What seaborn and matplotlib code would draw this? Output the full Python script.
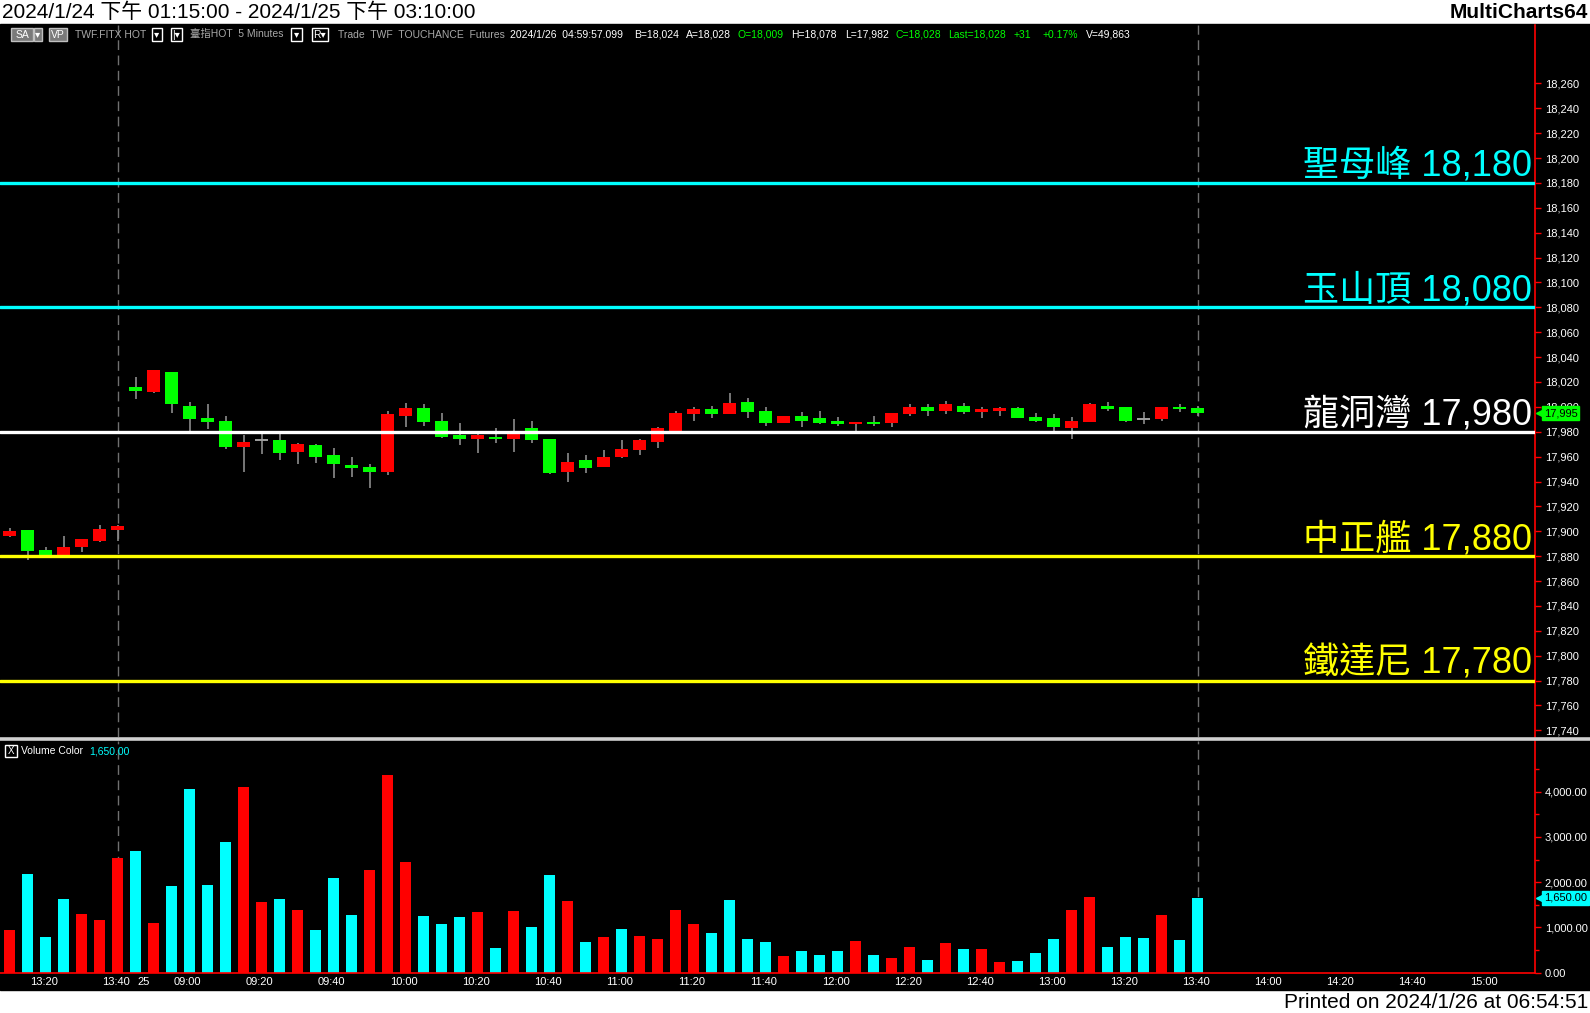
import numpy as np
import pandas as pd
import matplotlib
matplotlib.use('Agg')
import matplotlib.pyplot as plt
import matplotlib.transforms as mtransforms
from matplotlib.patches import Rectangle
from matplotlib.lines import Line2D
from matplotlib import font_manager
import seaborn as sns

# 5-minute bars, 2024/1/24 13:15 -> 2024/1/25 13:45
opens = [17896, 17901, 17885, 17881, 17887, 17892, 17901,
         18016, 18012, 18028, 18001, 17991, 17989, 17968, 17973, 17973, 17964,
         17969, 17961, 17953, 17952, 17948, 17993, 17999, 17989, 17977, 17974,
         17976, 17974, 17983, 17974, 17948, 17957, 17952, 17960, 17965, 17972,
         17981, 17994, 17998, 17994, 18004, 17997, 17987, 17993, 17991, 17989,
         17986, 17988, 17987, 17994, 18000, 17997, 18001, 17996, 17997, 17999,
         17992, 17991, 17983, 17988, 18001, 18000, 17990, 17990, 18000, 17999]
highs = [17903, 17901, 17887, 17896, 17894, 17905, 17905,
         18024, 18030, 18028, 18004, 18002, 17993, 17977, 17979, 17979, 17971,
         17970, 17967, 17960, 17954, 17997, 18003, 18002, 17995, 17987, 17978,
         17983, 17990, 17989, 17974, 17963, 17961, 17965, 17973, 17974, 17984,
         17997, 18000, 18001, 18011, 18007, 18000, 17993, 17996, 17997, 17992,
         17988, 17993, 17995, 18002, 18002, 18005, 18003, 18000, 18000, 18000,
         17995, 17994, 17992, 18003, 18004, 18000, 17996, 18000, 18002, 18001]
lows = [17895, 17877, 17881, 17881, 17883, 17891, 17892,
        18006, 18011, 17995, 17981, 17982, 17966, 17948, 17962, 17957, 17954,
        17955, 17943, 17944, 17935, 17945, 17984, 17985, 17975, 17969, 17963,
        17971, 17964, 17971, 17946, 17940, 17947, 17952, 17959, 17961, 17967,
        17981, 17989, 17991, 17994, 17991, 17985, 17987, 17984, 17986, 17985,
        17981, 17985, 17984, 17993, 17993, 17994, 17994, 17991, 17993, 17991,
        17988, 17981, 17974, 17988, 17997, 17988, 17986, 17989, 17996, 17993]
closes = [17900, 17884, 17881, 17887, 17894, 17902, 17904,
          18013, 18030, 18002, 17990, 17988, 17968, 17972, 17973, 17963, 17970,
          17960, 17954, 17951, 17948, 17994, 17999, 17988, 17976, 17974, 17977,
          17974, 17979, 17973, 17947, 17956, 17951, 17960, 17966, 17973, 17983,
          17995, 17998, 17994, 18003, 17996, 17987, 17993, 17989, 17987, 17986,
          17988, 17986, 17995, 18000, 17997, 18002, 17996, 17998, 17999, 17991,
          17989, 17984, 17989, 18002, 17998, 17989, 17990, 18000, 17998, 17995]
volumes = [940, 2180, 780, 1630, 1300, 1160, 2540, 2690, 1100, 1920,
           4070, 1940, 2890, 4110, 1560, 1630, 1380, 940, 2090, 1270,
           2270, 4360, 2450, 1250, 1070, 1230, 1340, 540, 1360, 1010,
           2160, 1580, 670, 780, 960, 810, 740, 1380, 1070, 870,
           1610, 740, 670, 360, 470, 390, 470, 700, 390, 320,
           560, 270, 650, 520, 520, 230, 250, 430, 740, 1380,
           1670, 560, 780, 760, 1270, 720, 1650]
vol_dir = ['up', 'dn', 'dn', 'dn', 'up', 'up', 'up', 'dn', 'up', 'dn',
           'dn', 'dn', 'dn', 'up', 'up', 'dn', 'up', 'dn', 'dn', 'dn',
           'up', 'up', 'up', 'dn', 'dn', 'dn', 'up', 'dn', 'up', 'dn',
           'dn', 'up', 'dn', 'up', 'dn', 'up', 'up', 'up', 'up', 'dn',
           'dn', 'dn', 'dn', 'up', 'dn', 'dn', 'dn', 'up', 'dn', 'up',
           'up', 'dn', 'up', 'dn', 'up', 'up', 'dn', 'dn', 'dn', 'up',
           'up', 'dn', 'dn', 'dn', 'up', 'dn', 'dn']

tick_idx = [1, 5, 7, 9, 13, 17, 21, 25, 29, 33, 37, 41, 45, 49, 53, 57, 61, 65,
            69, 73, 77, 81]
tick_labels = ['13:20', '13:40', '25', '09:00', '09:20', '09:40', '10:00', '10:20',
               '10:40', '11:00', '11:20', '11:40', '12:00', '12:20', '12:40',
               '13:00', '13:20', '13:40', '14:00', '14:20', '14:40', '15:00']
session_breaks = [6, 66]

levels = [18180, 18080, 17980, 17880, 17780]
level_names = ['聖母峰', '玉山頂', '龍洞灣', '中正艦', '鐵達尼']
level_colors = ['#00ffff', '#00ffff', '#ffffff', '#ffff00', '#ffff00']

last_price = 17995
last_volume = 1650

RED = '#ff0000'
GREEN = '#00ff00'
CYAN = '#00ffff'
GRAY = '#a8a8a8'

sns.set_style('dark', rc={'axes.facecolor': 'black', 'axes.grid': False})
names = {f.name for f in font_manager.fontManager.ttflist}
NARROW = 'Liberation Sans Narrow' if 'Liberation Sans Narrow' in names else 'Liberation Sans'
is_narrow = NARROW == 'Liberation Sans Narrow'
CJK = 'Noto Sans CJK TC'
plt.rcParams['font.family'] = ['Liberation Sans', CJK, 'DejaVu Sans']

W, H = 1590, 1013


def fx(px):
    return px / W


def fy(py):
    return 1 - py / H


fig = plt.figure(figsize=(15.9, 10.13), dpi=100, facecolor='white')
fig.add_artist(Rectangle((0, fy(990)), 1, fy(24.5) - fy(990), transform=fig.transFigure,
                         color='black', zorder=-10))

ax_p = fig.add_axes([0, fy(737), fx(1535), (737 - 25) / H])
ax_v = fig.add_axes([0, fy(972.5), fx(1535), (972.5 - 741) / H])
xlim = (-0.53, 84.75)

for ax in (ax_p, ax_v):
    ax.set_facecolor('black')
    for s in ('left', 'top', 'bottom'):
        ax.spines[s].set_visible(False)
    ax.spines['right'].set_color(RED)
    ax.spines['right'].set_linewidth(1.2)
    for b in session_breaks:
        ax.axvline(b, color='#707070', lw=1, ls=(0, (7, 4)), zorder=1)
ax_v.spines['bottom'].set_visible(True)
ax_v.spines['bottom'].set_color(RED)
ax_v.spines['bottom'].set_linewidth(1.2)

# candles
idx = np.arange(len(opens))
o = np.array(opens)
c = np.array(closes)
flat = c == o
body_col = np.where(c > o, RED, GREEN)
ax_p.vlines(idx, lows, highs, color='#8c8c8c', lw=1.2, zorder=2)
ax_p.bar(idx[~flat], np.abs(c - o)[~flat], bottom=np.minimum(o, c)[~flat], width=0.72,
         color=body_col[~flat], linewidth=0, zorder=3)
ax_p.hlines(c[flat], idx[flat] - 0.36, idx[flat] + 0.36, color='#a0a0a0', lw=1.4, zorder=3)

# level lines
for lv, name, col in zip(levels, level_names, level_colors):
    ax_p.axhline(lv, color=col, lw=2.4, zorder=4)
    ax_p.annotate(f'{name} {lv:,}', xy=(1, lv), xycoords=('axes fraction', 'data'),
                  xytext=(-3, 7), textcoords='offset pixels', ha='right', va='baseline',
                  color=col, fontsize=26, fontweight='light', zorder=5)

ax_p.set_xlim(*xlim)
ax_p.set_ylim(17734.6, 18307)
yt = np.arange(17740, 18261, 20)
ax_p.set_yticks(yt)
ax_p.set_yticklabels([f'{v:,}' for v in yt])
ax_p.yaxis.tick_right()
ax_p.tick_params(axis='y', colors=RED, labelcolor='white', length=4, width=1, pad=3,
                 labelsize=8)
ax_p.set_xticks([])

# volume
vdf = pd.DataFrame({'idx': idx, 'volume': volumes, 'dir': vol_dir})
sns.barplot(data=vdf, x='idx', y='volume', hue='dir', palette={'up': RED, 'dn': CYAN},
            native_scale=True, dodge=False, width=0.62, errorbar=None, saturation=1,
            legend=False, linewidth=0, ax=ax_v)
ax_v.set_xlim(*xlim)
ax_v.set_ylim(0, 5122)
ax_v.set_xlabel('')
ax_v.set_ylabel('')
ax_v.set_yticks([0, 1000, 2000, 3000, 4000])
ax_v.set_yticklabels([f'{v:,.2f}' for v in [0, 1000, 2000, 3000, 4000]])
ax_v.set_yticks(np.arange(500, 5000, 1000), minor=True)
ax_v.yaxis.tick_right()
ax_v.tick_params(axis='y', which='both', colors=RED, labelcolor='white', length=4,
                 width=1, pad=3, labelsize=8)
ax_v.tick_params(axis='y', which='minor', length=3)
ax_v.set_xticks(tick_idx)
ax_v.set_xticklabels([])
ax_v.tick_params(axis='x', colors=RED, length=3, width=1)
tr_x = mtransforms.blended_transform_factory(ax_v.transData, ax_v.transAxes)
for t, lab in zip(tick_idx, tick_labels):
    ax_v.text(t + 0.13, -0.041, lab, transform=tr_x, ha='left', va='center', color='white',
              fontsize=8, clip_on=False)


def value_marker(ax, y, text, col):
    tr = mtransforms.blended_transform_factory(ax.transAxes, ax.transData)
    ax.plot([1 + 6 / 1535], [y], marker='<', ms=7, color=col, transform=tr, clip_on=False,
            zorder=9)
    ax.text(1 + 9 / 1535, y, text, transform=tr, ha='left', va='center', fontsize=8,
            color='black', zorder=10, clip_on=False,
            bbox=dict(boxstyle='square,pad=0.15', fc=col, ec=col))


value_marker(ax_p, last_price, f'{last_price:,}', GREEN)
value_marker(ax_v, last_volume, f'{last_volume:,.2f}', CYAN)

# separator between panels
fig.add_artist(Line2D([0, 1], [fy(739), fy(739)], transform=fig.transFigure,
                      color='#d0d0d0', lw=2.6))

# top / bottom strips
title_size = 18 if is_narrow else 15
fig.text(fx(2), fy(12.5), '2024/1/24 下午 01:15:00 - 2024/1/25 下午 03:10:00',
         ha='left', va='center', fontsize=title_size, color='black',
         family=[NARROW, CJK])
fig.text(fx(1588), fy(12.5), 'MultiCharts64', ha='right', va='center',
         fontsize=title_size, weight='bold', color='black', family=[NARROW])
fig.text(fx(1588), fy(1002), 'Printed on 2024/1/26 at 06:54:51', ha='right', va='center',
         fontsize=15, color='black')

# header row inside the chart
small = 8.5 if is_narrow else 7.5
hy = fy(34.5)


def button(x0, x1, label, fc, ec):
    fig.add_artist(Rectangle((fx(x0), fy(41)), fx(x1) - fx(x0), fy(28) - fy(41),
                             transform=fig.transFigure, fc=fc, ec=ec, lw=1))
    fig.text(fx((x0 + x1) / 2), hy, label, ha='center', va='center', fontsize=small,
             color='white', family=[NARROW, 'DejaVu Sans'])


button(11, 33, 'SA', '#7a7a7a', '#c0c0c0')
button(34, 42, '▾', '#7a7a7a', '#c0c0c0')
button(49, 67, 'VP', '#7a7a7a', '#c0c0c0')
button(152, 162, '▾', 'black', 'white')
button(171, 182, '|▾', 'black', 'white')
button(291, 302, '▾', 'black', 'white')
button(312, 328, 'R▾', 'black', 'white')

header = [(75, 'TWF.FITX HOT', GRAY), (190, '臺指HOT  5 Minutes', GRAY),
          (338, 'Trade  TWF  TOUCHANCE  Futures', GRAY),
          (510, '2024/1/26  04:59:57.099', 'white'), (634, 'B=18,024', 'white'),
          (686, 'A=18,028', 'white'), (738, 'O=18,009', GREEN),
          (791, 'H=18,078', 'white'), (845, 'L=17,982', 'white'),
          (896, 'C=18,028', GREEN), (948, 'Last=18,028', GREEN), (1014, '+31', GREEN),
          (1043, '+0.17%', GREEN), (1086, 'V=49,863', 'white')]
for x, txt, col in header:
    fig.text(fx(x), hy, txt, ha='left', va='center', fontsize=small, color=col,
             family=[NARROW, CJK])

# volume panel caption
fig.add_artist(Rectangle((fx(5), fy(757)), fx(12), fy(745) - fy(757),
                         transform=fig.transFigure, fc='black', ec='white', lw=1))
fig.text(fx(11), fy(751), 'X', ha='center', va='center', fontsize=7, color='white')
fig.text(fx(21), fy(751), 'Volume Color', ha='left', va='center', fontsize=small,
         color='white', family=[NARROW])
fig.text(fx(89), fy(751), f'{last_volume:,.2f}', ha='left', va='center', fontsize=small,
         color=CYAN, family=[NARROW])

fig.savefig('out.png', dpi=100, facecolor='white')
